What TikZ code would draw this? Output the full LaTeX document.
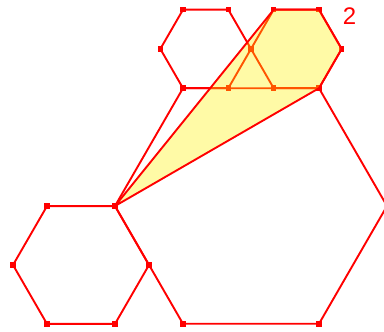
\documentclass[tikz,border=0pt]{standalone}
\usepackage{fontspec}
\setmainfont{Liberation Sans}
\usepackage{tikz}
\usetikzlibrary{calc}

\begin{document}
\begin{tikzpicture}[
  x=1pt, y=-1pt,
  edge/.style={draw=red, line width=1.9pt, line join=round},
  tint/.style={fill=yellow, fill opacity=0.35},
  vtx/.style={fill=red, rectangle, inner sep=0pt, minimum size=5.5pt},
  tag/.style={text=red, font=\fontsize{24}{24}\selectfont, inner sep=0pt}
]
\useasboundingbox (0,0) rectangle (384,332);
\clip (0,0) rectangle (384,332);
% hexagon corners
\foreach \h/\cx/\cy/\r in {big/251/206/136, low/81/265/68,
    one/205.67/48.93/45.33, two/296.33/48.93/45.33}
  \foreach \k in {0,...,5}
    \coordinate (\h\k) at ([shift={(\cx,\cy)}]\k*60:\r);
% hexagons
\foreach \h in {big,low,one,two}
  \draw[edge] (\h0) -- (\h1) -- (\h2) -- (\h3) -- (\h4) -- (\h5) -- cycle;
% corner points
\foreach \h in {big,low,one,two}
  \foreach \k in {0,...,5}
    \node[vtx] (p-\h\k) at (\h\k) {};
% shaded polygon
\fill[tint] (big3) -- (two4) -- (two5) -- (two0) -- (two1) -- cycle;
\draw[edge] (big3) -- (two4) -- (two5) -- (two0) -- (two1) -- cycle;
\node[vtx] (p-tip) at (big3) {};
% label
\node[tag] (lbl) at (349.5,16) {2};
\end{tikzpicture}
\end{document}
